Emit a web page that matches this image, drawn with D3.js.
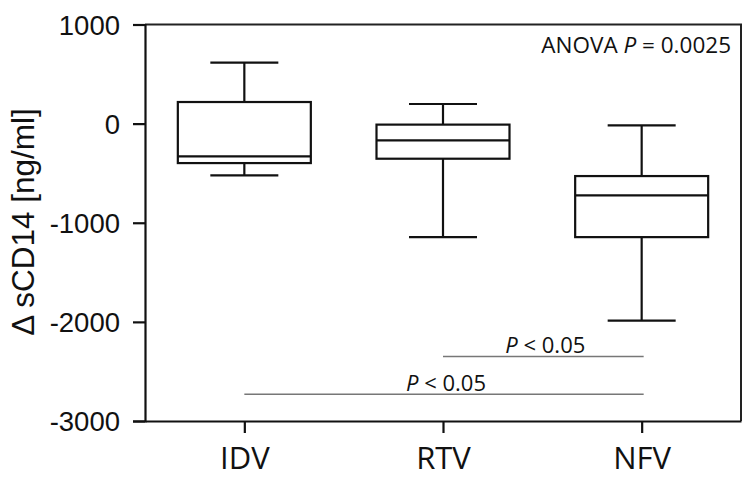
<!DOCTYPE html>
<html>
<head>
<meta charset="utf-8">
<script src="https://cdn.jsdelivr.net/npm/d3@7"></script>
<style>
  body { margin: 0; background: #fff; }
  svg { display: block; }
</style>
</head>
<body>
<script>
const groups = ['IDV', 'RTV', 'NFV']
const whiskerMax = [616, 198, -17]
const q3 = [218, -10, -529]
const median = [-330, -169, -724]
const q1 = [-398, -354, -1145]
const whiskerMin = [-522, -1145, -1987]

const yTicks = [1000, 0, -1000, -2000, -3000]

const compFrom = ['RTV', 'IDV']
const compTo = ['NFV', 'NFV']
const compLevel = [-2350, -2730]
const compLabel = ['P', 'P']

const width = 750, height = 481
const margin = {top: 24.5, bottom: 60, left: 145, right: 9}

const svg = d3.select('body')
  .append('svg')
  .attr('width', width)
  .attr('height', height)

const x = d3.scalePoint()
  .domain(groups)
  .range([margin.left, width - margin.right])
  .padding(0.5)

const y = d3.scaleLinear()
  .domain([-3000, 1000])
  .range([height - margin.bottom, margin.top])

const boxW = 133, capW = 68

// frame top + right
svg.append('path')
  .attr('d', `M${margin.left},${y(1000)}H${width - margin.right}V${y(-3000)}`)
  .attr('fill', 'none')
  .attr('stroke', '#222')
  .attr('stroke-width', 2)

const yAxis = svg.append('g')
  .attr('transform', `translate(${margin.left},0)`)
  .call(d3.axisLeft(y).tickValues(yTicks).tickSize(12).tickPadding(13).tickFormat(d => String(d)))
yAxis.select('.domain').attr('stroke-width', 2.2).attr('stroke', '#111')
yAxis.selectAll('.tick line').attr('stroke-width', 2.2).attr('stroke', '#111')
yAxis.selectAll('text')
  .attr('font-family', 'Liberation Sans, Arial, sans-serif')
  .attr('font-size', 27.5)
  .attr('fill', '#111')
  .attr('dy', '0.36em')

const xAxis = svg.append('g')
  .attr('transform', `translate(0,${y(-3000)})`)
  .call(d3.axisBottom(x).tickSize(12).tickPadding(12).tickSizeOuter(0))
xAxis.select('.domain').attr('stroke-width', 2.2).attr('stroke', '#111')
xAxis.selectAll('.tick line').attr('stroke-width', 2.2).attr('stroke', '#111')
xAxis.selectAll('text')
  .attr('font-family', 'Open Sans, sans-serif')
  .attr('font-size', 31)
  .attr('fill', '#111')
  .attr('dy', '0.78em')

// y title
svg.append('text')
  .attr('transform', `translate(34,222) rotate(-90)`)
  .attr('text-anchor', 'middle')
  .attr('font-family', 'Liberation Sans, Arial, sans-serif')
  .attr('font-size', 31.5)
  .attr('fill', '#111')
  .text('\u0394 sCD14 [ng/ml]')

// boxes
const boxes = svg.selectAll('.box')
  .data(groups)
  .enter().append('g')
    .attr('class', 'box')
    .attr('transform', d => `translate(${x(d)},0)`)
    .attr('stroke', '#111')
    .attr('stroke-width', 2.2)
    .attr('fill', 'none')

boxes.append('line')
  .attr('y1', (d, i) => y(whiskerMax[i]))
  .attr('y2', (d, i) => y(q3[i]))
boxes.append('line')
  .attr('y1', (d, i) => y(q1[i]))
  .attr('y2', (d, i) => y(whiskerMin[i]))
boxes.append('line')
  .attr('x1', -capW / 2).attr('x2', capW / 2)
  .attr('y1', (d, i) => y(whiskerMax[i]))
  .attr('y2', (d, i) => y(whiskerMax[i]))
boxes.append('line')
  .attr('x1', -capW / 2).attr('x2', capW / 2)
  .attr('y1', (d, i) => y(whiskerMin[i]))
  .attr('y2', (d, i) => y(whiskerMin[i]))
boxes.append('rect')
  .attr('x', -boxW / 2)
  .attr('width', boxW)
  .attr('y', (d, i) => y(q3[i]))
  .attr('height', (d, i) => y(q1[i]) - y(q3[i]))
boxes.append('line')
  .attr('x1', -boxW / 2).attr('x2', boxW / 2)
  .attr('y1', (d, i) => y(median[i]))
  .attr('y2', (d, i) => y(median[i]))

// significance bars
compFrom.forEach((f, i) => {
  const x1 = x(f), x2 = x(compTo[i]) + 2
  svg.append('line')
    .attr('x1', x1).attr('x2', x2)
    .attr('y1', y(compLevel[i])).attr('y2', y(compLevel[i]))
    .attr('stroke', '#777')
    .attr('stroke-width', 1.6)
  const t = svg.append('text')
    .attr('x', (x(f) + x(compTo[i])) / 2 + 3)
    .attr('y', y(compLevel[i]) - 3.5)
    .attr('text-anchor', 'middle')
    .attr('font-family', 'Open Sans, sans-serif')
    .attr('font-size', 22)
    .attr('fill', '#111')
  t.append('tspan').attr('font-style', 'italic').text(compLabel[i])
  t.append('tspan').text(' < 0.05')
})

// ANOVA note
const anova = svg.append('text')
  .attr('x', 731)
  .attr('y', 53)
  .attr('text-anchor', 'end')
  .attr('font-family', 'Open Sans, sans-serif')
  .attr('font-size', 22.5)
  .attr('fill', '#111')
anova.append('tspan').text('ANOVA ')
anova.append('tspan').attr('font-style', 'italic').text('P')
anova.append('tspan').text(' = 0.0025')
</script>
</body>
</html>
